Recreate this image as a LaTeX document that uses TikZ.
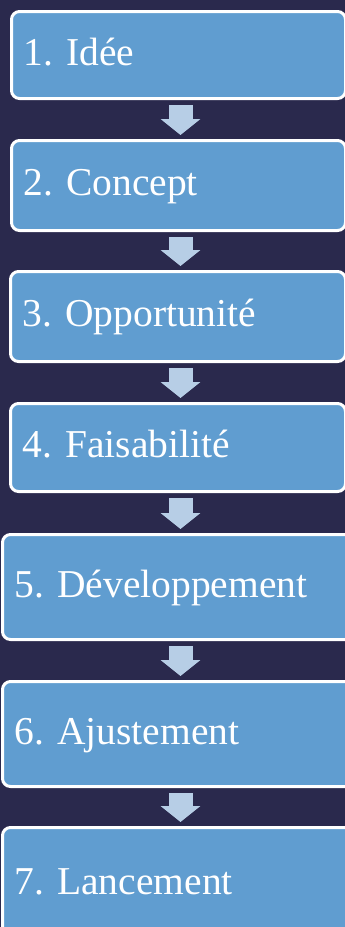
\documentclass[tikz,border=0pt]{standalone}
\usepackage{fontspec}
\setmainfont{Liberation Serif}
\usepackage{tikz}
\usetikzlibrary{arrows.meta, calc}
\definecolor{navy}{HTML}{2A294D}
\definecolor{stagefill}{HTML}{609DD0}
\definecolor{arrowfill}{HTML}{B7CEE6}
\frenchspacing

\tikzset{
  stage/.style={draw=white, line width=3pt, rounded corners=8pt, fill=stagefill,
    text=white, anchor=north west, align=left, inner xsep=12pt, inner ysep=0pt,
    text height=27pt, text depth=7pt, font=\fontsize{39.5}{44}\selectfont},
  blockarrow/.style={draw=arrowfill, line width=24pt,
    -{Triangle[length=16pt, width=39pt]}}
}

\begin{document}
\begin{tikzpicture}[x=1pt, y=-1pt]

  % Background
  \useasboundingbox (0,0) rectangle (345,927);
  \fill[navy] (0,0) rectangle (345,927);
  \clip (0,0) rectangle (345,927);

  % Stages
  \node[stage, text width=310pt, minimum height=87pt]  (s1) at (10,10)  {1. Idée};
  \node[stage, text width=310pt, minimum height=90pt]  (s2) at (10,139) {2. Concept};
  \node[stage, text width=311pt, minimum height=90pt]  (s3) at (9,270)  {3. Opportunité};
  \node[stage, text width=311pt, minimum height=88pt]  (s4) at (9,402)  {4. Faisabilité};
  \node[stage, text width=335pt, minimum height=105pt] (s5) at (1,533)  {5. Développement};
  \node[stage, text width=335pt, minimum height=105pt] (s6) at (1,680)  {6. Ajustement};
  \node[stage, text width=335pt, minimum height=114pt] (s7) at (1,826)  {7. Lancement};

  % Arrows between stages
  \coordinate (axis) at (180.5,0);
  \foreach \a/\b in {s1/s2, s2/s3, s3/s4, s4/s5, s5/s6, s6/s7} {
    \draw[blockarrow] ($(\a.south -| axis)+(0,5)$) -- ($(\b.north -| axis)+(0,-4)$);
  }

\end{tikzpicture}
\end{document}
